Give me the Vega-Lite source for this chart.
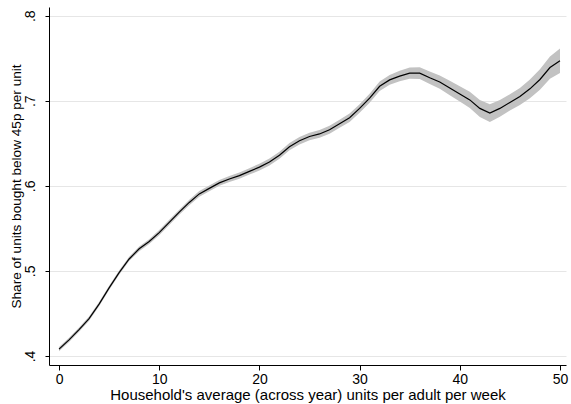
{
  "$schema": "https://vega.github.io/schema/vega-lite/v6.json",
  "width": 517,
  "height": 358,
  "autosize": {"type": "none"},
  "padding": {"left": 49, "top": 7, "right": 5, "bottom": 39},
  "background": "white",
  "config": {"view": {"stroke": null}, "font": "Liberation Sans"},
  "data": {"values": [
    {"x": 0, "share": 0.408, "lo": 0.4055, "hi": 0.4105},
    {"x": 1, "share": 0.419, "lo": 0.4165, "hi": 0.4215},
    {"x": 2, "share": 0.431, "lo": 0.4285, "hi": 0.4335},
    {"x": 3, "share": 0.444, "lo": 0.4415, "hi": 0.4465},
    {"x": 4, "share": 0.461, "lo": 0.4585, "hi": 0.4635},
    {"x": 5, "share": 0.480, "lo": 0.4775, "hi": 0.4825},
    {"x": 6, "share": 0.498, "lo": 0.4955, "hi": 0.5005},
    {"x": 7, "share": 0.514, "lo": 0.5115, "hi": 0.5165},
    {"x": 8, "share": 0.526, "lo": 0.5232, "hi": 0.5288},
    {"x": 9, "share": 0.5345, "lo": 0.5317, "hi": 0.5373},
    {"x": 10, "share": 0.545, "lo": 0.542, "hi": 0.548},
    {"x": 11, "share": 0.557, "lo": 0.554, "hi": 0.560},
    {"x": 12, "share": 0.569, "lo": 0.566, "hi": 0.572},
    {"x": 13, "share": 0.5805, "lo": 0.5773, "hi": 0.5837},
    {"x": 14, "share": 0.5905, "lo": 0.5871, "hi": 0.5939},
    {"x": 15, "share": 0.597, "lo": 0.5935, "hi": 0.6005},
    {"x": 16, "share": 0.6035, "lo": 0.600, "hi": 0.607},
    {"x": 17, "share": 0.608, "lo": 0.6045, "hi": 0.6115},
    {"x": 18, "share": 0.612, "lo": 0.6083, "hi": 0.6157},
    {"x": 19, "share": 0.617, "lo": 0.6132, "hi": 0.6208},
    {"x": 20, "share": 0.622, "lo": 0.618, "hi": 0.626},
    {"x": 21, "share": 0.628, "lo": 0.624, "hi": 0.632},
    {"x": 22, "share": 0.636, "lo": 0.6318, "hi": 0.6402},
    {"x": 23, "share": 0.646, "lo": 0.6417, "hi": 0.6503},
    {"x": 24, "share": 0.653, "lo": 0.6486, "hi": 0.6574},
    {"x": 25, "share": 0.658, "lo": 0.6535, "hi": 0.6625},
    {"x": 26, "share": 0.661, "lo": 0.6564, "hi": 0.6656},
    {"x": 27, "share": 0.666, "lo": 0.6613, "hi": 0.6707},
    {"x": 28, "share": 0.673, "lo": 0.6682, "hi": 0.6778},
    {"x": 29, "share": 0.680, "lo": 0.6751, "hi": 0.6849},
    {"x": 30, "share": 0.691, "lo": 0.686, "hi": 0.696},
    {"x": 31, "share": 0.703, "lo": 0.6978, "hi": 0.7082},
    {"x": 32, "share": 0.717, "lo": 0.7115, "hi": 0.7225},
    {"x": 33, "share": 0.7245, "lo": 0.7187, "hi": 0.7303},
    {"x": 34, "share": 0.729, "lo": 0.7228, "hi": 0.7352},
    {"x": 35, "share": 0.7325, "lo": 0.7259, "hi": 0.7391},
    {"x": 36, "share": 0.7325, "lo": 0.7255, "hi": 0.7395},
    {"x": 37, "share": 0.727, "lo": 0.7196, "hi": 0.7344},
    {"x": 38, "share": 0.722, "lo": 0.7142, "hi": 0.7298},
    {"x": 39, "share": 0.715, "lo": 0.7065, "hi": 0.7235},
    {"x": 40, "share": 0.708, "lo": 0.699, "hi": 0.717},
    {"x": 41, "share": 0.701, "lo": 0.6915, "hi": 0.7105},
    {"x": 42, "share": 0.691, "lo": 0.681, "hi": 0.701},
    {"x": 43, "share": 0.6855, "lo": 0.675, "hi": 0.696},
    {"x": 44, "share": 0.691, "lo": 0.6812, "hi": 0.7008},
    {"x": 45, "share": 0.698, "lo": 0.6885, "hi": 0.7075},
    {"x": 46, "share": 0.705, "lo": 0.695, "hi": 0.715},
    {"x": 47, "share": 0.714, "lo": 0.703, "hi": 0.725},
    {"x": 48, "share": 0.725, "lo": 0.713, "hi": 0.737},
    {"x": 49, "share": 0.739, "lo": 0.726, "hi": 0.752},
    {"x": 50, "share": 0.747, "lo": 0.7325, "hi": 0.7615}
  ]},
  "encoding": {
    "x": {
      "field": "x", "type": "quantitative",
      "scale": {"domain": [-1, 50.6], "nice": false, "zero": false},
      "axis": {
        "title": "Household's average (across year) units per adult per week",
        "values": [0, 10, 20, 30, 40, 50],
        "grid": false,
        "domainColor": "#000000",
        "tickColor": "#000000",
        "tickSize": 5,
        "labelFontSize": 14,
        "labelColor": "#000000",
        "labelPadding": 2,
        "titleFontSize": 15,
        "titleFontWeight": "normal",
        "titleColor": "#000000",
        "titlePadding": 1
      }
    },
    "y": {
      "field": "share", "type": "quantitative",
      "scale": {"domain": [0.3894, 0.8102], "nice": false, "zero": false},
      "axis": {
        "title": "Share of units bought below 45p per unit",
        "values": [0.4, 0.5, 0.6, 0.7, 0.8],
        "labelExpr": "slice(format(datum.value, '.1f'), 1)",
        "labelAngle": 270,
        "labelAlign": "center",
        "labelBaseline": "bottom",
        "labelPadding": 8,
        "grid": true,
        "gridColor": "#e6e6e6",
        "domainColor": "#000000",
        "tickColor": "#000000",
        "tickSize": 4,
        "labelFontSize": 14,
        "labelColor": "#000000",
        "titleFontSize": 13.6,
        "titleFontWeight": "normal",
        "titleColor": "#000000",
        "titlePadding": 0
      }
    }
  },
  "layer": [
    {
      "mark": {"type": "area", "color": "#c2c2c2", "opacity": 1},
      "encoding": {
        "y": {"field": "lo", "type": "quantitative"},
        "y2": {"field": "hi"}
      }
    },
    {
      "mark": {"type": "line", "color": "#000000", "strokeWidth": 1.2},
      "encoding": {}
    }
  ]
}
